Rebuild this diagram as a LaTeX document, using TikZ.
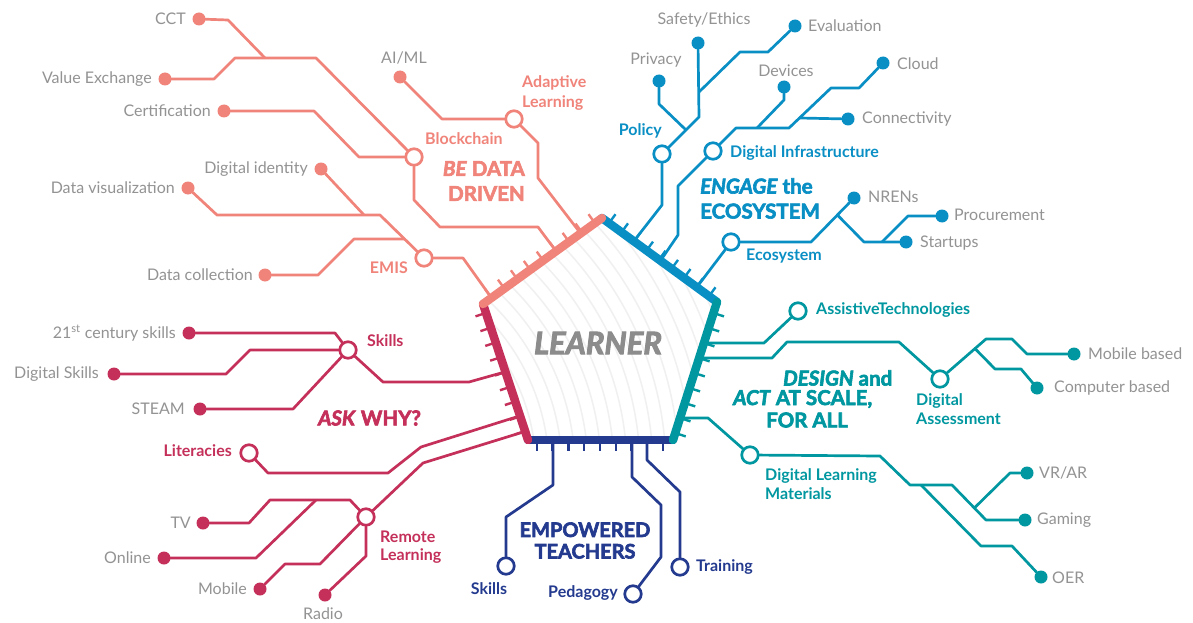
\documentclass[tikz,border=0pt]{standalone}
\usepackage{fontspec}
\setmainfont{Lato}
\newfontfamily\heavyfont{Lato}[FakeBold=3]
\usetikzlibrary{calc}
\pgfdeclarelayer{back}\pgfdeclarelayer{conns}\pgfdeclarelayer{edges}
\pgfsetlayers{back,conns,edges,main}
\definecolor{cSal}{HTML}{F0847A}
\definecolor{cBlu}{HTML}{0A8FC5}
\definecolor{cTea}{HTML}{0097A0}
\definecolor{cNav}{HTML}{233A8E}
\definecolor{cCri}{HTML}{C4305A}
\definecolor{cGry}{HTML}{8C8C8C}
\definecolor{cTxt}{HTML}{939393}
\definecolor{cWave}{HTML}{F0F0F0}
\tikzset{
  conn/.style={line width=2.7pt, line join=round, line cap=round},
  dotnode/.style={circle, fill=#1, minimum size=13pt, inner sep=0pt, outer sep=0pt},
  ringnode/.style={circle, draw=#1, fill=white, line width=2.7pt, minimum size=16.5pt, inner sep=0pt},
  glabel/.style={font=\fontsize{16}{18}\selectfont, text=cTxt, inner sep=0pt},
  clabel/.style={font=\fontsize{16}{19}\selectfont\bfseries, text=#1, inner sep=0pt},
  head/.style={font=\heavyfont\bfseries\fontsize{20.5}{25}\selectfont, text=#1, inner sep=0pt},
  edgeline/.style={line width=8.5pt, line cap=round},
  tickline/.style={line width=2.4pt},
}
\newcommand\edgeticks[4]{%
  \foreach \k in {0,...,8}{%
    \pgfmathsetmacro\pp{#4+\k*0.1087}%
    \coordinate (tk) at ($(#2)!\pp!(#3)$);%
    \draw[tickline,#1] (tk) -- ($(tk)!11pt!90:(#3)$);%
  }}
\begin{document}
\begin{tikzpicture}[x=1pt,y=-1pt]
\useasboundingbox (0,0) rectangle (1193,623);
% pentagon vertices
\coordinate (L) at (483,304);
\coordinate (T) at (602,218);
\coordinate (R) at (717,302);
\coordinate (BR) at (673,440);
\coordinate (BL) at (528,440);
\begin{pgfonlayer}{back}
  \fill[white] (0,0) rectangle (1193,623);
  \begin{scope}
    \clip (L) -- (T) -- (R) -- (BR) -- (BL) -- cycle;
    \foreach \r in {180,193,...,460} \draw[cWave, line width=1.5pt] (330,470) circle (\r);
  \end{scope}
\end{pgfonlayer}

% ---------------- salmon: BE DATA DRIVEN ----------------
\coordinate (eEMIS) at (491.5,297.9);
\coordinate (eBlock) at (556.1,251.2);
\coordinate (eAdapt) at (580.6,233.4);
\coordinate (jCCT) at (265,58);
\coordinate (jDigId) at (364,215);
\coordinate (jDataCol) at (404.5,239);
\node[dotnode=cSal] (cct) at (199,19) {};
\node[dotnode=cSal] (valex) at (165,79) {};
\node[dotnode=cSal] (cert) at (224,111) {};
\node[ringnode=cSal] (block) at (414,157) {};
\node[dotnode=cSal] (aiml) at (400,77) {};
\node[ringnode=cSal] (adapt) at (514,119) {};
\node[dotnode=cSal] (digid) at (321,169) {};
\node[dotnode=cSal] (dataviz) at (188,188) {};
\node[dotnode=cSal] (datacol) at (265,275) {};
\node[ringnode=cSal] (emis) at (424,258) {};
\node[glabel,anchor=east] (tcct) at (186,19) {CCT};
\node[glabel,anchor=east] (tvalex) at (152,79) {Value Exchange};
\node[glabel,anchor=east] (tcert) at (211,111) {Certification};
\node[glabel] (taiml) at (404,58) {AI/ML};
\node[glabel,anchor=east] (tdigid) at (308,169) {Digital identity};
\node[glabel,anchor=east] (tdataviz) at (175,188) {Data visualization};
\node[glabel,anchor=east] (tdatacol) at (253,275) {Data collection};
\node[clabel=cSal,anchor=west] (lblock) at (425,139) {Blockchain};
\node[clabel=cSal,anchor=west,align=left,font=\fontsize{16}{20}\selectfont\bfseries] (ladapt) at (522,93) {Adaptive\\Learning};
\node[clabel=cSal,anchor=east] (lemis) at (408,268) {EMIS};
\node[head=cSal,anchor=east,align=right] (lbe) at (525,181) {\textit{BE} DATA\\DRIVEN};
\begin{pgfonlayer}{conns}
\begin{scope}[conn,cSal]
  \draw (cct) -- (228,20) -- (jCCT);
  \draw (valex) -- (214,79) -- (235,58) -- (316,58) -- (block);
  \draw (cert) -- (314,111) -- (359,157) -- (block);
  \draw (block) -- (414,200) -- (440,227) -- (538,227) -- (eBlock);
  \draw (aiml) -- (442,119) -- (adapt);
  \draw (adapt) -- (538,143) -- (538,178) -- (eAdapt);
  \draw (dataviz) -- (217,215) -- (380,215) -- (emis);
  \draw (digid) -- (jDigId);
  \draw (datacol) -- (318,275) -- (354,239) -- (jDataCol);
  \draw (emis) -- (463,258) -- (eEMIS);
\end{scope}
\end{pgfonlayer}

% ---------------- blue: ENGAGE the ECOSYSTEM ----------------
\coordinate (ePol) at (633.8,241.2);
\coordinate (eDI) at (660.5,260.7);
\coordinate (eEco) at (696.8,287.2);
\coordinate (jEval) at (699,92);
\coordinate (jPriv) at (686,130);
\coordinate (jDev) at (757,128);
\coordinate (jConn) at (799.5,118);
\coordinate (jNren) at (837.4,215);
\coordinate (jStart) at (882,242);
\node[dotnode=cBlu] (eval) at (795,26) {};
\node[dotnode=cBlu] (safety) at (698,43) {};
\node[dotnode=cBlu] (privacy) at (659,81) {};
\node[ringnode=cBlu] (policy) at (662,154) {};
\node[ringnode=cBlu] (dinf) at (713,151) {};
\node[dotnode=cBlu] (devices) at (784,87) {};
\node[dotnode=cBlu] (cloud) at (883,63) {};
\node[dotnode=cBlu] (connect) at (848,119) {};
\node[ringnode=cBlu] (eco) at (731,242) {};
\node[dotnode=cBlu] (nrens) at (854,198) {};
\node[dotnode=cBlu] (procure) at (942,216) {};
\node[dotnode=cBlu] (startups) at (906,242) {};
\node[glabel,anchor=west] (teval) at (808,26) {Evaluation};
\node[glabel] (tsafety) at (704,20) {Safety/Ethics};
\node[glabel] (tprivacy) at (656,60) {Privacy};
\node[glabel] (tdevices) at (786,71) {Devices};
\node[glabel,anchor=west] (tcloud) at (897,64) {Cloud};
\node[glabel,anchor=west] (tconnect) at (862,119) {Connectivity};
\node[glabel,anchor=west] (tnrens) at (868,197) {NRENs};
\node[glabel,anchor=west] (tprocure) at (954,215) {Procurement};
\node[glabel,anchor=west] (tstartups) at (920,243) {Startups};
\node[clabel=cBlu,anchor=east] (lpol) at (662,131) {Policy};
\node[clabel=cBlu,anchor=west] (ldi) at (730,153) {Digital Infrastructure};
\node[clabel=cBlu,anchor=west] (leco) at (746,256) {Ecosystem};
\node[head=cBlu,anchor=west,align=left] (leng) at (700,198.5) {\textit{ENGAGE} the\\ECOSYSTEM};
\begin{pgfonlayer}{conns}
\begin{scope}[conn,cBlu]
  \draw (eval) -- (768,52) -- (740,52) -- (jEval);
  \draw (safety) -- (699,117) -- (policy);
  \draw (privacy) -- (659,104) -- (jPriv);
  \draw (policy) -- (662,205) -- (ePol);
  \draw (dinf) -- (736,128) -- (789,128) -- (831,88) -- (859,88) -- (cloud);
  \draw (devices) -- (784,100) -- (jDev);
  \draw (connect) -- (jConn);
  \draw (dinf) -- (678,186) -- (678,235) -- (eDI);
  \draw (eco) -- (811,242) -- (nrens);
  \draw (jNren) -- (864,242) -- (startups);
  \draw (procure) -- (908,216) -- (jStart);
  \draw (eco) -- (eEco);
\end{scope}
\end{pgfonlayer}

% ---------------- teal: DESIGN and ACT AT SCALE ----------------
\coordinate (eAT) at (703.9,343);
\coordinate (eDA) at (699.1,358);
\coordinate (eDLM) at (680,418);
\coordinate (jComp) at (975,348.6);
\coordinate (jVR) at (974.3,508);
\coordinate (jOER) at (921,485);
\node[ringnode=cTea] (assist) at (798,311) {};
\node[ringnode=cTea] (dassess) at (940,379) {};
\node[dotnode=cTea] (mobb) at (1074,354) {};
\node[dotnode=cTea] (compb) at (1037,388) {};
\node[ringnode=cTea] (dlm) at (750,455) {};
\node[dotnode=cTea] (vrar) at (1027,473) {};
\node[dotnode=cTea] (gaming) at (1025,520) {};
\node[dotnode=cTea] (oer) at (1041,577) {};
\node[glabel,anchor=west] (tmobb) at (1088,354) {Mobile based};
\node[glabel,anchor=west] (tcompb) at (1054,388) {Computer based};
\node[glabel,anchor=west] (tvrar) at (1039,473) {VR/AR};
\node[glabel,anchor=west] (tgaming) at (1037,520) {Gaming};
\node[glabel,anchor=west] (toer) at (1052,578) {OER};
\node[clabel=cTea,anchor=west] (lassist) at (816,310) {AssistiveTechnologies};
\node[clabel=cTea,anchor=west,align=left,font=\fontsize{16}{18.5}\selectfont\bfseries] (lda) at (916,409) {Digital\\Assessment};
\node[clabel=cTea,anchor=west,align=left,font=\fontsize{16}{18.5}\selectfont\bfseries] (ldlm) at (765,484) {Digital Learning\\Materials};
\node[head=cTea,anchor=west] (ldes1) at (783,378) {\textit{DESIGN} and};
\node[head=cTea,anchor=west] (ldes2) at (733,399) {\textit{ACT} AT SCALE,};
\node[head=cTea,anchor=west] (ldes3) at (766,420) {FOR ALL};
\begin{pgfonlayer}{conns}
\begin{scope}[conn,cTea]
  \draw (assist) -- (764,343) -- (eAT);
  \draw (eDA) -- (772,358) -- (787,342) -- (899,342) -- (dassess);
  \draw (dassess) -- (986,339) -- (1012,339) -- (1027,354) -- (mobb);
  \draw (jComp) -- (995,369) -- (1021,369) -- (compb);
  \draw (eDLM) -- (708,418) -- (dlm);
  \draw (dlm) -- (880,456) -- (910,485) -- (952,485) -- (986,520) -- (gaming);
  \draw (vrar) -- (1010,473) -- (jVR);
  \draw (jOER) -- (981,546) -- (1012,546) -- (oer);
\end{scope}
\end{pgfonlayer}

% ---------------- navy: EMPOWERED TEACHERS ----------------
\coordinate (eSk) at (553,440);
\coordinate (ePed) at (632,440);
\coordinate (eTr) at (647,440);
\node[ringnode=cNav] (tskills) at (506,566) {};
\node[ringnode=cNav] (peda) at (633,594) {};
\node[ringnode=cNav] (train) at (680,567) {};
\node[clabel=cNav] (lsk) at (489,589) {Skills};
\node[clabel=cNav,anchor=east] (lped) at (618,593) {Pedagogy};
\node[clabel=cNav,anchor=west] (ltr) at (696,567) {Training};
\node[head=cNav,align=center,font=\heavyfont\bfseries\fontsize{20}{21.5}\selectfont] (lemp) at (585,540.5) {EMPOWERED\\TEACHERS};
\begin{pgfonlayer}{conns}
\begin{scope}[conn,cNav]
  \draw (eSk) -- (553,485) -- (506,517) -- (tskills);
  \draw (ePed) -- (632,477) -- (661,505) -- (661,557) -- (peda);
  \draw (eTr) -- (647,460) -- (680,492) -- (train);
\end{scope}
\end{pgfonlayer}

% ---------------- crimson: ASK WHY? ----------------
\coordinate (eSkC) at (505.4,371.8);
\coordinate (eLit) at (520,415.8);
\coordinate (eRem) at (525.8,431.2);
\coordinate (jOnline) at (316,500);
\node[ringnode=cCri] (cskills) at (348,350) {};
\node[dotnode=cCri] (c21) at (189,333) {};
\node[dotnode=cCri] (cdig) at (114,374) {};
\node[dotnode=cCri] (csteam) at (200,409) {};
\node[ringnode=cCri] (lit) at (249,453) {};
\node[ringnode=cCri] (remote) at (366,517) {};
\node[dotnode=cCri] (tv) at (203,523) {};
\node[dotnode=cCri] (online) at (164,558) {};
\node[dotnode=cCri] (mobile) at (260,589) {};
\node[dotnode=cCri] (radio) at (325,595) {};
\node[glabel,anchor=east] (tc21) at (176,333) {21\textsuperscript{st} century skills};
\node[glabel,anchor=east] (tcdig) at (99,374) {Digital Skills};
\node[glabel,anchor=east] (tcsteam) at (185,409) {STEAM};
\node[glabel,anchor=east] (ttv) at (191,523) {TV};
\node[glabel,anchor=east] (tonline) at (151,558) {Online};
\node[glabel,anchor=east] (tmobile) at (247,589) {Mobile};
\node[glabel] (tradio) at (323,614) {Radio};
\node[clabel=cCri,anchor=west] (lcsk) at (367,341) {Skills};
\node[clabel=cCri,anchor=east] (llit) at (232,451) {Literacies};
\node[clabel=cCri,anchor=west,align=left,font=\fontsize{16}{18.5}\selectfont\bfseries] (lrem) at (380,547) {Remote\\Learning};
\node[head=cCri,anchor=west] (lask) at (318,418) {\textit{ASK} WHY?};
\begin{pgfonlayer}{conns}
\begin{scope}[conn,cCri]
  \draw (c21) -- (335,333) -- (cskills);
  \draw (cdig) -- (226,374) -- (250,350) -- (cskills);
  \draw (csteam) -- (293,409) -- (cskills);
  \draw (cskills) -- (383,382) -- (469,382) -- (eSkC);
  \draw (lit) -- (268,473) -- (388,473) -- (421,447) -- (eLit);
  \draw (remote) -- (423,463) -- (eRem);
  \draw (tv) -- (249,523) -- (270,500) -- (350,500) -- (remote);
  \draw (online) -- (256,558) -- (jOnline);
  \draw (mobile) -- (285,564) -- (320,564) -- (remote);
  \draw (radio) -- (366,556) -- (remote);
\end{scope}
\end{pgfonlayer}

% ---------------- pentagon edges ----------------
\begin{pgfonlayer}{edges}
  \edgeticks{cSal}{L}{T}{0.071}
  \edgeticks{cBlu}{T}{R}{0.061}
  \edgeticks{cTea}{R}{BR}{0.08}
  \edgeticks{cNav}{BR}{BL}{0.069}
  \edgeticks{cCri}{BL}{L}{0.065}
  \draw[edgeline,cNav] (BR) -- (BL);
  \draw[edgeline,cBlu] (T) -- (R);
  \draw[edgeline,cCri] (BL) -- (L);
  \draw[edgeline,cTea] (R) -- (BR);
  \draw[edgeline,cSal] (L) -- (T);
\end{pgfonlayer}
\node[font=\heavyfont\bfseries\itshape\fontsize{31}{34}\selectfont, text=cGry, inner sep=0pt] (learner) at (598,343) {LEARNER};
\end{tikzpicture}
\end{document}
